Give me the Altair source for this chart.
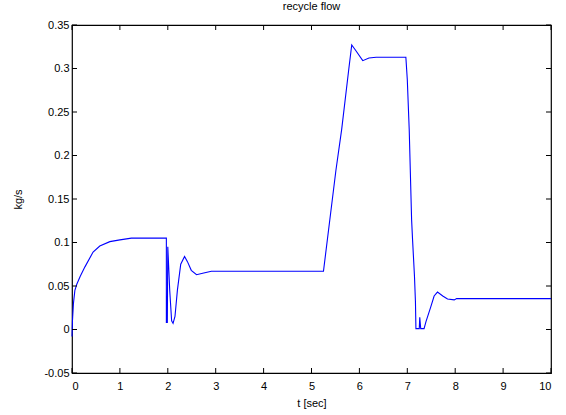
import altair as alt
import pandas as pd

# recycle flow series
t_sec = [0.0, 0.01, 0.03, 0.06, 0.10, 0.17, 0.27, 0.44, 0.58, 0.79, 1.00, 1.24, 1.60, 1.97,
         1.97, 1.99, 2.00, 2.04, 2.08, 2.11, 2.15, 2.20, 2.27, 2.35, 2.41, 2.49, 2.60, 2.75, 2.91,
         5.25, 5.51, 5.63, 5.78, 5.84, 5.92, 6.07, 6.20, 6.35, 6.97,
         7.00, 7.04, 7.09, 7.11, 7.15, 7.17, 7.18, 7.25, 7.26, 7.28, 7.35, 7.39, 7.49,
         7.56, 7.63, 7.74, 7.84, 7.98, 8.03, 10.0]
flow = [-0.008, 0.010, 0.030, 0.045, 0.052, 0.061, 0.072, 0.089, 0.096, 0.101, 0.103, 0.105, 0.105, 0.105,
        0.008, 0.008, 0.095, 0.045, 0.010, 0.007, 0.015, 0.045, 0.075, 0.084, 0.078, 0.068, 0.063, 0.065, 0.067,
        0.067, 0.183, 0.230, 0.300, 0.327, 0.321, 0.309, 0.312, 0.313, 0.313,
        0.287, 0.230, 0.126, 0.103, 0.061, 0.032, 0.001, 0.001, 0.014, 0.001, 0.001, 0.009, 0.026,
        0.0385, 0.043, 0.0385, 0.035, 0.034, 0.0355, 0.0355]

x_ticks = [0, 1, 2, 3, 4, 5, 6, 7, 8, 9, 10]
y_ticks = [-0.05, 0, 0.05, 0.1, 0.15, 0.2, 0.25, 0.3, 0.35]

df = pd.DataFrame({"t": t_sec, "flow": flow, "i": list(range(len(t_sec)))})
dfx = pd.DataFrame({"t": x_ticks})
dfy = pd.DataFrame({"flow": y_ticks})

FONT = "Liberation Sans"
W, H = 479, 348

xscale = alt.Scale(domain=[0, 10], nice=False, zero=False)
yscale = alt.Scale(domain=[-0.05, 0.35], nice=False, zero=False)

line = alt.Chart(df).mark_line(color="#0000FF", strokeWidth=1.1).encode(
    x=alt.X("t:Q", scale=xscale,
            axis=alt.Axis(values=x_ticks, title="t [sec]", grid=False, domain=False, ticks=False,
                          labelPadding=7, titlePadding=6, labelFontSize=11, titleFontSize=11,
                          labelFont=FONT, titleFont=FONT, titleFontWeight="normal",
                          labelColor="black", titleColor="black")),
    y=alt.Y("flow:Q", scale=yscale,
            axis=alt.Axis(values=y_ticks, title="kg/s", grid=False, domain=False, ticks=False,
                          labelExpr="'' + datum.value",
                          labelPadding=3, titlePadding=20, labelFontSize=11, titleFontSize=11,
                          labelFont=FONT, titleFont=FONT, titleFontWeight="normal",
                          labelColor="black", titleColor="black")),
    order="i:Q",
)

tick_len = 5
xt_bottom = alt.Chart(dfx).mark_rule(color="black", strokeWidth=1).encode(
    x=alt.X("t:Q", scale=xscale), y=alt.value(H), y2=alt.value(H - tick_len))
xt_top = alt.Chart(dfx).mark_rule(color="black", strokeWidth=1).encode(
    x=alt.X("t:Q", scale=xscale), y=alt.value(0), y2=alt.value(tick_len))
yt_left = alt.Chart(dfy).mark_rule(color="black", strokeWidth=1).encode(
    y=alt.Y("flow:Q", scale=yscale), x=alt.value(0), x2=alt.value(tick_len))
yt_right = alt.Chart(dfy).mark_rule(color="black", strokeWidth=1).encode(
    y=alt.Y("flow:Q", scale=yscale), x=alt.value(W), x2=alt.value(W - tick_len))

chart = alt.layer(line, xt_bottom, xt_top, yt_left, yt_right).properties(
    width=W, height=H,
    title=alt.TitleParams("recycle flow", font=FONT, fontSize=11, fontWeight="normal",
                          color="black", offset=7),
    autosize=alt.AutoSizeParams(type="none"),
    padding={"left": 72, "top": 25, "right": 15, "bottom": 42},
    background="white",
).configure_view(stroke="black", strokeWidth=1.2)

chart.save("out.html", embed_options={"renderer": "svg", "actions": False})
